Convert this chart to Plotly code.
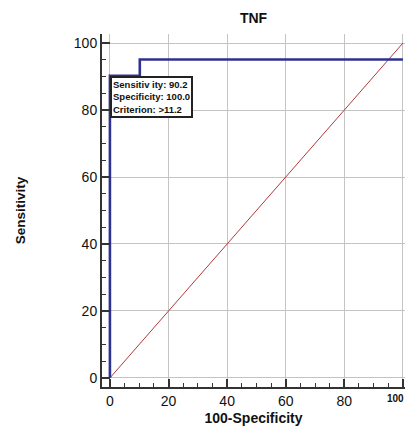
import plotly.graph_objects as go

# ROC curve data (100-Specificity, Sensitivity)
roc_x = [0, 0, 10.2, 10.2, 100]
roc_y = [0, 90.2, 90.2, 95.1, 95.1]
diag_x = [0, 100]
diag_y = [0, 100]

tick_vals = [0, 20, 40, 60, 80, 100]
x_tick_text = ["0", "20", "40", "60", "80", "100"]
y_tick_text = ["0", "20", "40", "60", "80", "100"]

box_lines = ["Sensitiv ity: 90.2", "Specificity: 100.0", "Criterion: >11.2"]
box_anchor = (0, 90.2)

FONT = "Liberation Sans, Arial, sans-serif"
AX = "#333333"

fig = go.Figure()
fig.add_trace(go.Scatter(x=diag_x, y=diag_y, mode="lines",
                         line=dict(color="#b03a3a", width=1), hoverinfo="skip"))
fig.add_trace(go.Scatter(x=roc_x, y=roc_y, mode="lines",
                         line=dict(color="#2e3192", width=2.6), hoverinfo="skip"))

fig.add_annotation(x=box_anchor[0], y=box_anchor[1], xref="x", yref="y",
                   xanchor="left", yanchor="top", showarrow=False,
                   text="<b>" + "<br>".join(box_lines) + "</b>", align="left",
                   font=dict(family=FONT, size=9.5, color="#111"),
                   bgcolor="white", bordercolor="#222", borderwidth=2, borderpad=1)

# last x tick label is drawn smaller and right-aligned to its tick (as in the reference)
fig.add_annotation(x=tick_vals[-1], y=0, xref="x", yref="paper",
                   xanchor="right", yanchor="top", xshift=3, yshift=-4, showarrow=False,
                   text="<b>" + x_tick_text[-1] + "</b>",
                   font=dict(family=FONT, size=10, color="#111"))

axis_common = dict(
    tickvals=tick_vals, showgrid=True, gridcolor="#c4c4c4", gridwidth=1,
    zeroline=True, zerolinecolor="#c4c4c4", zerolinewidth=1,
    showline=True, linecolor=AX, linewidth=2,
    ticks="inside", ticklen=8, tickwidth=2, tickcolor=AX,
    minor=dict(dtick=5, ticks="inside", ticklen=4, tickwidth=1, tickcolor=AX, showgrid=False),
    tickfont=dict(family=FONT, size=14, color="#111"),
    automargin=False,
)

fig.update_xaxes(range=[-2.7, 100.7], ticktext=x_tick_text[:-1] + [""],
                 title=dict(text="<b>100-Specificity</b>", standoff=5,
                            font=dict(family=FONT, size=14, color="#111")),
                 **axis_common)
fig.update_yaxes(range=[-2.7, 102.7], ticktext=y_tick_text,
                 title=dict(text="<b>Sensitivity</b>", standoff=45,
                            font=dict(family=FONT, size=13.5, color="#111")),
                 **axis_common)
fig.update_xaxes(tickprefix="<b>", ticksuffix="</b>")
fig.update_yaxes(tickprefix="<b>", ticksuffix="</b>")

fig.update_layout(
    width=409, height=428,
    margin=dict(l=102, r=4, t=34, b=41),
    paper_bgcolor="white", plot_bgcolor="white",
    showlegend=False,
    title=dict(text="<b>TNF</b>", x=0.5, xref="paper", y=1 - 18 / 428, yref="container",
               yanchor="middle", font=dict(family=FONT, size=14, color="#111")),
)

fig.write_html("out.html", config={"displayModeBar": False},
               post_script="document.body.style.margin='0';document.body.style.overflow='hidden';")
